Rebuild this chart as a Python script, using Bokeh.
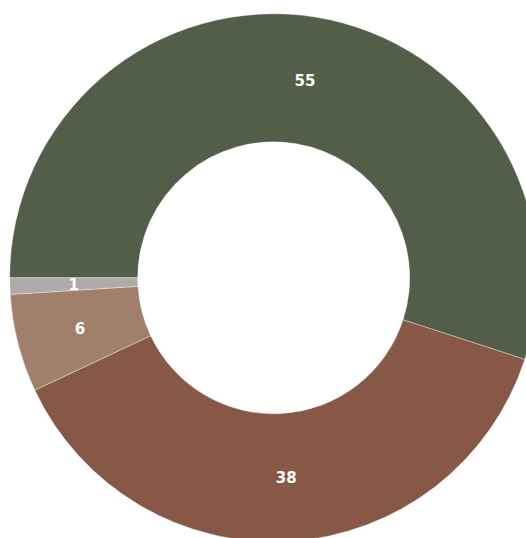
import math
from bokeh.plotting import figure
from bokeh.models import ColumnDataSource, Range1d
from bokeh.core.properties import value
from bokeh.embed import file_html
from bokeh.resources import INLINE

labels = ["55", "38", "6", "1"]
values = [55, 38, 6, 1]
colors = ["#525e48", "#875846", "#a0806b", "#b0a9a9"]

W, H = 526, 538
cx, cy = 273.2, H - 277.3
r_out, r_in = 264, 136

total = sum(values)
starts, ends, lx, ly = [], [], [], []
cum = 0.0
for v in values:
    a0 = math.pi - cum / total * 2 * math.pi
    cum += v
    a1 = math.pi - cum / total * 2 * math.pi
    starts.append(a0)
    ends.append(a1)
    mid = (a0 + a1) / 2
    rm = (r_out + r_in) / 2
    lx.append(cx + rm * math.cos(mid))
    ly.append(cy + rm * math.sin(mid))

src = ColumnDataSource(dict(start=starts, end=ends, color=colors,
                            x=lx, y=ly, label=labels))

p = figure(width=W, height=H, output_backend="svg", toolbar_location=None,
           x_range=Range1d(0, W), y_range=Range1d(0, H), min_border=0)
p.axis.visible = False
p.grid.visible = False
p.outline_line_color = None
p.background_fill_color = "white"

p.annular_wedge(x=cx, y=cy, inner_radius=r_in, outer_radius=r_out,
                start_angle="start", end_angle="end", direction="clock",
                fill_color="color", line_color="white", line_width=0.6,
                line_alpha=0.6, source=src)

p.text(x="x", y="y", text="label", source=src, text_color="white",
       text_font=value("DejaVu Sans"), text_font_style="bold",
       text_font_size="15px", text_align="center", text_baseline="middle")

open("out.html", "w").write(file_html(p, INLINE))
